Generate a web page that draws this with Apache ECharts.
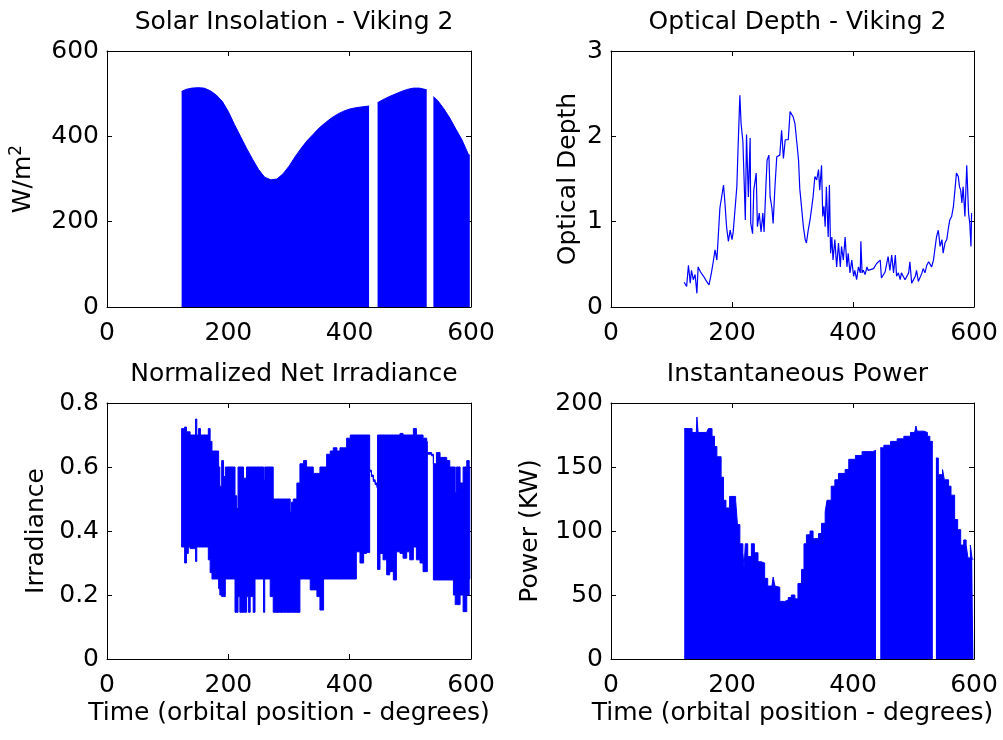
<!DOCTYPE html>
<html>
<head>
<meta charset="utf-8">
<script src="https://cdn.jsdelivr.net/npm/echarts@6/dist/echarts.min.js"></script>
<style>
  html, body { margin: 0; padding: 0; background: #fff; }
  #chart { width: 1003px; height: 740px; }
</style>
</head>
<body>
<div id="chart"></div>
<script>
// Solar insolation (W/m^2), null = gap in the record
var solarX = [123, 130, 140, 150, 160, 170, 180, 190, 200, 210, 220, 230, 240, 250, 260, 270, 280, 290, 300, 310, 320, 330, 340, 350, 360, 370, 380, 390, 400, 410, 420, 432, 438, 446, 455, 465, 475, 485, 495, 505, 515, 527, 532, 538, 545, 555, 565, 575, 585, 595, 598];
var solarY = [505, 510, 513, 514, 513, 507, 497, 482, 458, 428, 400, 372, 346, 322, 304, 298, 300, 312, 330, 352, 372, 390, 405, 420, 432, 443, 452, 459, 464, 467, 469, 471, null, 479, 486, 493, 499, 505, 510, 513, 513, 509, null, 493, 484, 465, 443, 417, 392, 360, 355];

// Optical depth
var depthX = [121, 125, 128, 131, 133, 136, 139, 142, 144, 148, 153, 158, 162, 166, 169, 172, 175, 177, 180, 183, 186, 188, 191, 194, 197, 200, 202, 205, 208, 210, 213, 215, 218, 220, 222, 224, 227, 230, 231, 234, 236, 240, 242, 245, 248, 251, 253, 256, 258, 261, 263, 266, 268, 271, 274, 277, 279, 282, 285, 288, 290, 293, 296, 301, 304, 307, 310, 312, 315, 318, 321, 323, 326, 329, 332, 334, 337, 340, 343, 345, 348, 350, 352, 354, 356, 359, 361, 363, 365, 367, 370, 373, 376, 379, 381, 384, 387, 390, 392, 395, 398, 401, 403, 406, 409, 412, 413, 415, 417, 420, 423, 425, 428, 434, 439, 445, 447, 450, 453, 456, 458, 461, 464, 467, 470, 472, 475, 478, 480, 483, 486, 489, 492, 494, 497, 500, 503, 505, 508, 511, 514, 516, 519, 522, 525, 527, 530, 533, 538, 541, 544, 547, 549, 552, 555, 558, 560, 563, 566, 569, 571, 574, 576, 578, 580, 582, 585, 588, 591, 593, 595, 596];
var depthY = [0.29, 0.24, 0.49, 0.28, 0.43, 0.32, 0.38, 0.16, 0.47, 0.41, 0.36, 0.30, 0.26, 0.40, 0.53, 0.67, 0.55, 0.79, 1.16, 1.18, 1.43, 1.25, 0.94, 0.77, 0.90, 0.79, 0.88, 0.90, 1.41, 1.86, 2.48, 2.15, 1.94, 1.49, 1.02, 2.02, 1.29, 1.98, 0.98, 0.86, 1.37, 1.57, 0.94, 1.10, 0.88, 1.10, 0.88, 1.41, 1.72, 1.78, 1.29, 1.16, 0.98, 1.41, 1.76, 1.78, 1.78, 2.07, 1.74, 1.96, 1.94, 1.96, 2.29, 2.23, 2.15, 1.94, 1.72, 1.39, 1.37, 0.94, 0.79, 0.75, 0.90, 1.02, 1.18, 1.29, 1.53, 1.49, 1.61, 1.37, 1.66, 1.06, 1.18, 0.94, 1.41, 0.82, 1.43, 0.63, 0.82, 0.55, 0.79, 0.47, 0.75, 0.47, 0.71, 0.55, 0.82, 0.47, 0.63, 0.40, 0.55, 0.36, 0.43, 0.32, 0.47, 0.40, 0.77, 0.40, 0.43, 0.38, 0.47, 0.43, 0.41, 0.45, 0.51, 0.55, 0.34, 0.36, 0.41, 0.40, 0.59, 0.43, 0.61, 0.40, 0.61, 0.36, 0.40, 0.32, 0.40, 0.36, 0.32, 0.30, 0.40, 0.53, 0.28, 0.26, 0.36, 0.43, 0.30, 0.32, 0.40, 0.45, 0.40, 0.49, 0.53, 0.51, 0.47, 0.55, 0.82, 0.90, 0.71, 0.79, 0.63, 0.75, 0.79, 0.94, 1.02, 1.06, 1.18, 1.41, 1.57, 1.53, 1.41, 1.37, 1.22, 1.41, 1.06, 1.66, 1.10, 0.98, 0.71, 1.10];

// Normalized net irradiance: upper and lower envelope of the dense trace
var irrX = [123, 126, 128, 131, 134, 137, 140, 143, 146, 148, 151, 154, 159, 164, 167, 170, 173, 176, 181, 184, 186, 189, 192, 195, 197, 203, 208, 211, 214, 216, 219, 222, 225, 230, 233, 236, 241, 244, 247, 252, 258, 260, 263, 269, 274, 280, 285, 291, 296, 302, 304, 307, 313, 318, 324, 329, 335, 340, 346, 351, 357, 362, 368, 373, 379, 384, 390, 395, 401, 406, 411, 417, 423, 428, 432, 433, 436, 439, 442, 445, 446, 450, 455, 461, 466, 472, 477, 483, 488, 494, 499, 505, 510, 516, 521, 527, 528, 535, 538, 543, 549, 554, 560, 565, 571, 574, 576, 582, 587, 593, 597, 598];
var irrHigh = [0.72, 0.72, 0.725, 0.71, 0.71, 0.70, 0.70, 0.70, 0.75, 0.70, 0.72, 0.70, 0.70, 0.70, 0.72, 0.68, 0.65, 0.65, 0.65, 0.60, 0.54, 0.62, 0.57, 0.60, 0.60, 0.60, 0.60, 0.51, 0.47, 0.60, 0.60, 0.60, 0.565, 0.60, 0.60, 0.60, 0.60, 0.60, 0.60, 0.60, 0.56, 0.60, 0.60, 0.60, 0.50, 0.50, 0.50, 0.50, 0.50, 0.46, 0.49, 0.50, 0.55, 0.61, 0.62, 0.60, 0.60, 0.58, 0.58, 0.60, 0.60, 0.64, 0.65, 0.66, 0.65, 0.66, 0.66, 0.69, 0.70, 0.70, 0.70, 0.70, 0.70, 0.70, 0.70, 0.59, 0.575, 0.56, 0.55, 0.54, 0.70, 0.70, 0.70, 0.70, 0.70, 0.70, 0.70, 0.705, 0.70, 0.70, 0.70, 0.72, 0.70, 0.70, 0.69, 0.68, 0.645, 0.64, 0.61, 0.645, 0.63, 0.63, 0.62, 0.60, 0.60, 0.52, 0.60, 0.55, 0.60, 0.62, 0.60, 0.60];
var irrLow = [0.35, 0.35, 0.30, 0.33, 0.35, 0.345, 0.345, 0.345, 0.305, 0.35, 0.35, 0.35, 0.35, 0.35, 0.31, 0.27, 0.25, 0.25, 0.25, 0.22, 0.20, 0.195, 0.195, 0.25, 0.25, 0.25, 0.25, 0.146, 0.146, 0.195, 0.146, 0.146, 0.146, 0.195, 0.146, 0.195, 0.146, 0.25, 0.25, 0.25, 0.146, 0.25, 0.25, 0.195, 0.146, 0.146, 0.146, 0.146, 0.146, 0.146, 0.146, 0.146, 0.146, 0.25, 0.25, 0.25, 0.216, 0.216, 0.195, 0.153, 0.25, 0.25, 0.25, 0.25, 0.25, 0.25, 0.25, 0.25, 0.25, 0.25, 0.335, 0.30, 0.33, 0.333, 0.333, 0.585, 0.57, 0.555, 0.545, 0.535, 0.28, 0.33, 0.31, 0.263, 0.273, 0.247, 0.335, 0.33, 0.315, 0.335, 0.31, 0.35, 0.31, 0.30, 0.273, 0.273, 0.64, 0.635, 0.247, 0.247, 0.247, 0.247, 0.247, 0.247, 0.20, 0.17, 0.17, 0.20, 0.148, 0.20, 0.25, 0.25];

// Instantaneous power (KW)
var powerX = [121, 130, 134, 141, 142, 144, 158, 161, 167, 171, 175, 182, 186, 190, 196, 206, 209, 213, 218, 220, 222, 226, 232, 237, 243, 248, 254, 259, 266, 268, 271, 274, 279, 287, 293, 298, 304, 309, 315, 319, 323, 329, 334, 343, 348, 354, 357, 364, 370, 376, 387, 393, 404, 415, 432, 438, 445, 451, 462, 473, 484, 495, 502, 504, 506, 517, 523, 527, 532, 537, 541, 548, 551, 558, 562, 568, 573, 578, 583, 587, 590, 594, 597, 599];
var powerY = [180, 180, 177, 177, 189, 177, 177, 180, 174, 166, 158, 142, 124, 118, 127, 124, 105, 90, 83, 71, 90, 80, 90, 83, 76, 75, 63, 57, 57, 64, 57, 56, 45, 46, 48, 50, 47, 59, 70, 90, 97, 100, 94, 98, 106, 115, 124, 135, 140, 145, 148, 156, 159, 162, 163, null, 165, 167, 170, 172, 174, 177, 178, 182, 178, 177, 174, 170, null, 157, 144, 148, 140, 135, 128, 109, 101, 89, 93, 89, 79, 89, 78, 78];

function pairs(xs, ys) {
  return xs.map(function (x, i) { return [x, ys[i]]; });
}

var blue = '#0000ff';
var font = 'DejaVu Sans';
var fs = 25;
var grids = [
  { left: 107, top: 51, width: 364, height: 256 },
  { left: 611, top: 51, width: 363, height: 256 },
  { left: 107, top: 403, width: 364, height: 256 },
  { left: 611, top: 403, width: 363, height: 256 }
];
var yRanges = [[0, 600, 200], [0, 3, 1], [0, 0.8, 0.2], [0, 200, 50]];
var yNames = ['W/m{sup|2}', 'Optical Depth', 'Irradiance', 'Power (KW)'];
var yGaps = [68, 30, 58, 68];
var titles = ['Solar Insolation - Viking 2', 'Optical Depth - Viking 2', 'Normalized Net Irradiance', 'Instantaneous Power'];

var xAxes = [], yAxes = [], titleList = [];
grids.forEach(function (g, i) {
  var base = {
    gridIndex: i, type: 'value', min: 0, max: 600, interval: 200,
    axisLine: { show: true, onZero: false, lineStyle: { color: '#000', width: 1 } },
    axisTick: { show: true, inside: true, length: 5, lineStyle: { color: '#000' } },
    splitLine: { show: false }
  };
  xAxes.push(Object.assign({}, base, {
    position: 'bottom',
    axisLabel: { color: '#000', fontSize: fs, fontFamily: font, margin: 14 },
    name: i >= 2 ? 'Time (orbital position - degrees)' : '',
    nameLocation: 'middle', nameGap: 42,
    nameTextStyle: { color: '#000', fontSize: fs, fontFamily: font }
  }));
  xAxes.push(Object.assign({}, base, { position: 'top', axisLabel: { show: false } }));
  var r = yRanges[i];
  var ybase = {
    gridIndex: i, type: 'value', min: r[0], max: r[1], interval: r[2],
    axisLine: { show: true, onZero: false, lineStyle: { color: '#000', width: 1 } },
    axisTick: { show: true, inside: true, length: 5, lineStyle: { color: '#000' } },
    splitLine: { show: false }
  };
  yAxes.push(Object.assign({}, ybase, {
    position: 'left',
    axisLabel: { color: '#000', fontSize: fs, fontFamily: font, margin: 8 },
    name: yNames[i], nameLocation: 'middle', nameGap: yGaps[i],
    nameTextStyle: {
      color: '#000', fontSize: fs, fontFamily: font,
      rich: { sup: { fontSize: 17, fontFamily: font, color: '#000', verticalAlign: 'top', padding: [0, 0, 14, 0] } }
    }
  }));
  yAxes.push(Object.assign({}, ybase, { position: 'right', axisLabel: { show: false } }));
  titleList.push({
    text: titles[i], left: g.left + g.width / 2, top: g.top - 46, textAlign: 'center',
    textStyle: { color: '#000', fontSize: fs, fontFamily: font, fontWeight: 'normal' }
  });
});

// irradiance band: one stepped polygon, upper envelope forward, lower envelope back
function renderBand(params, api) {
  if (params.dataIndex !== 0) return null;
  var pts = [];
  var n = irrX.length;
  for (var k = 0; k < n - 1; k++) {
    pts.push(api.coord([irrX[k], irrHigh[k]]));
    pts.push(api.coord([irrX[k + 1], irrHigh[k]]));
  }
  for (var j = n - 2; j >= 0; j--) {
    pts.push(api.coord([irrX[j + 1], irrLow[j]]));
    pts.push(api.coord([irrX[j], irrLow[j]]));
  }
  return {
    type: 'polygon',
    shape: { points: pts },
    style: { fill: blue, stroke: blue, lineWidth: 1 }
  };
}

var chart = echarts.init(document.getElementById('chart'));
chart.setOption({
  animation: false,
  backgroundColor: '#fff',
  title: titleList,
  grid: grids,
  xAxis: xAxes,
  yAxis: yAxes,
  series: [
    {
      type: 'line', xAxisIndex: 0, yAxisIndex: 0, symbol: 'none',
      data: pairs(solarX, solarY),
      lineStyle: { color: blue, width: 1 }, areaStyle: { color: blue, opacity: 1 }
    },
    {
      type: 'line', xAxisIndex: 2, yAxisIndex: 2, symbol: 'none',
      data: pairs(depthX, depthY),
      lineStyle: { color: blue, width: 1.2 }
    },
    {
      type: 'custom', xAxisIndex: 4, yAxisIndex: 4,
      data: pairs(irrX, irrHigh),
      renderItem: renderBand
    },
    {
      type: 'line', xAxisIndex: 6, yAxisIndex: 6, symbol: 'none', step: 'end',
      data: pairs(powerX, powerY),
      lineStyle: { color: blue, width: 1 }, areaStyle: { color: blue, opacity: 1 }
    }
  ]
});
</script>
</body>
</html>
